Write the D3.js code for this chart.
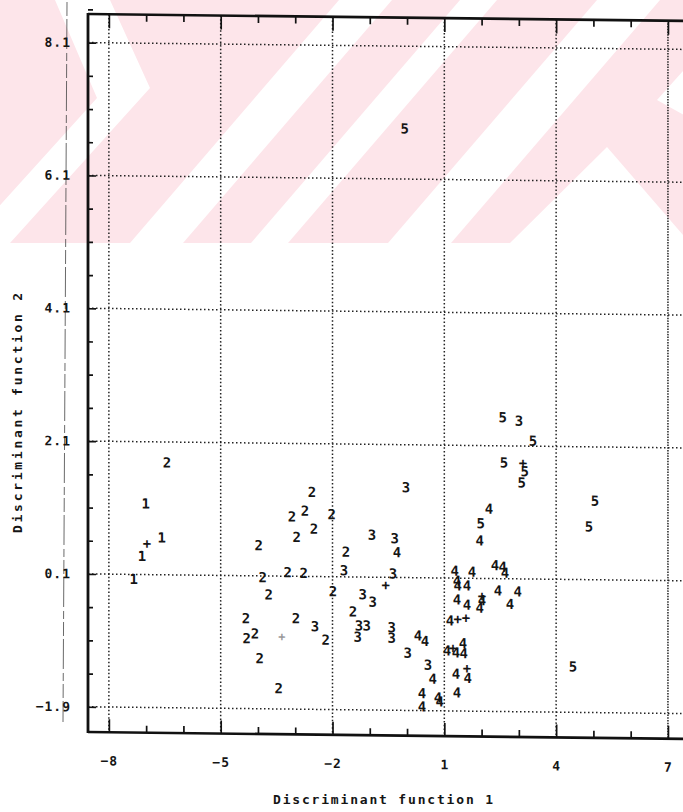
<!DOCTYPE html>
<html>
<head>
<meta charset="utf-8">
<script src="https://cdn.jsdelivr.net/npm/d3@7"></script>
<style>
  body { margin: 0; background: #fff; }
  svg text { font-family: "DejaVu Sans Mono", monospace; font-weight: bold; fill: #151515; }
</style>
</head>
<body>
<div id="chart"></div>
<script>
// axis ticks
const xTicks = [-8, -5, -2, 1, 4, 7];
const yTicks = [-1.9, 0.1, 2.1, 4.1, 6.1, 8.1];
const xMinorTicks = [-7, -6, -4, -3, -1, 0, 2, 3, 5, 6];
const yMinorTicks = [-1.4, -0.9, -0.4, 0.6, 1.1, 1.6, 2.6, 3.1, 3.6, 4.6, 5.1, 5.6, 6.6, 7.1, 7.6, 8.6];

// discriminant scores, one array per group: [function 1, function 2]
const group1 = [[-7.01, 1.17], [-6.58, 0.66], [-7.11, 0.38], [-7.33, 0.03]];
const group2 = [[-6.44, 1.79], [-2.55, 1.37], [-3.09, 1.00], [-2.74, 1.09], [-2.02, 1.04], [-2.50, 0.82],
  [-2.96, 0.69], [-3.98, 0.56], [-1.64, 0.48], [-3.20, 0.16], [-2.77, 0.15], [-3.87, 0.08],
  [-3.71, -0.18], [-1.99, -0.12], [-4.32, -0.54], [-2.98, -0.53], [-1.45, -0.42], [-4.30, -0.84],
  [-4.08, -0.77], [-2.18, -0.85], [-3.95, -1.14], [-3.44, -1.59]];
const group3 = [[-0.94, 0.74], [-0.33, 0.69], [-1.69, 0.20], [-1.19, -0.16], [-0.92, -0.27], [-0.38, 0.16],
  [-2.47, -0.65], [-1.29, -0.63], [-1.08, -0.63], [-1.32, -0.80], [-0.41, -0.65], [-0.41, -0.81],
  [0.02, -1.03], [0.56, -1.21], [-0.03, 1.46], [3.00, 2.48]];
const group4 = [[-0.27, 0.48], [0.29, -0.77], [0.48, -0.85], [0.69, -1.42], [0.40, -1.64], [0.40, -1.84],
  [0.83, -1.70], [0.88, -1.76], [1.34, -1.62], [2.20, 1.15], [1.95, 0.67], [1.28, 0.21], [1.74, 0.20],
  [2.36, 0.30], [2.57, 0.28], [2.63, 0.19], [1.34, 0.06], [1.36, -0.01], [1.61, -0.01], [1.34, -0.22],
  [1.61, -0.30], [2.01, -0.23], [1.95, -0.34], [2.44, -0.08], [2.97, -0.09], [2.76, -0.28], [1.15, -0.54],
  [1.07, -0.99], [1.31, -1.02], [1.50, -0.88], [1.52, -1.03], [1.31, -1.34], [1.63, -1.40]];
const group5 = [[-0.06, 6.86], [2.57, 2.53], [3.38, 2.18], [2.60, 1.85], [3.16, 1.72], [3.08, 1.55],
  [1.98, 0.93], [5.04, 1.29], [4.88, 0.90], [4.45, -1.21]];
// "+" marks printed in the plot
const plusMarks = [[-6.98, 0.57], [-0.57, -0.01], [3.11, 1.85], [2.01, -0.16], [1.36, -0.51],
  [1.58, -0.49], [1.23, -0.95], [1.61, -1.25]];
const faintMarks = [[-3.36, -0.81]];

const groupNames = ["1", "2", "3", "4", "5"];
const groupData = [group1, group2, group3, group4, group5];

const width = 683, height = 812;

const svg = d3.select("#chart").append("svg")
    .attr("width", width)
    .attr("height", height);

/* ------- background stripes of the scanned page ------- */
const wm = svg.append("g");
const wmBottom = 243;
wm.append("rect").attr("x", 0).attr("y", 0).attr("width", width).attr("height", wmBottom).attr("fill", "#fde5ea");
const slant = 0.86;
const band = (c1, c2) => [[c1, 0], [c2, 0], [c2 - slant * wmBottom, wmBottom], [c1 - slant * wmBottom, wmBottom]];
const whiteShapes = [
    band(339, 392),
    band(460, 497),
    band(597, 660),
    [[55, 0], [110, 0], [150, 88], [10, 243], [-34, 243], [97, 98]],
    [[607, 147], [510, 243], [690, 243]],
    [[684, 70], [684, 115], [657, 100]]
];
wm.selectAll("polygon").data(whiteShapes).enter().append("polygon")
    .attr("points", d => d.map(p => p.join(",")).join(" "))
    .attr("fill", "#fff");

// scanner artefact line
svg.append("line")
    .attr("x1", 67).attr("y1", 2).attr("x2", 63).attr("y2", 722)
    .attr("stroke", "#444").attr("stroke-width", 0.8)
    .attr("stroke-dasharray", "14,3,30,4,8,3");

/* ------- plot, slightly skewed like the scan ------- */
const plotLeft = 88, plotTop = 14, plotBottom = 732, plotRight = 700;
const skew = 0.0115;
const g = svg.append("g")
    .attr("transform", `translate(0,${-plotLeft * skew}) skewY(${Math.atan(skew) * 180 / Math.PI})`);

const x = d3.scaleLinear().domain([-8.56, 7.86]).range([plotLeft, plotRight]);
const y = d3.scaleLinear().domain([-2.28, 8.53]).range([plotBottom, plotTop]);

// dotted grid
g.selectAll(".hgrid").data(yTicks).enter().append("line")
    .attr("x1", plotLeft).attr("x2", plotRight)
    .attr("y1", d => y(d)).attr("y2", d => y(d))
    .attr("stroke", "#222").attr("stroke-width", 1.5)
    .attr("stroke-dasharray", "1.5,2.5");
g.selectAll(".vgrid").data(xTicks).enter().append("line")
    .attr("x1", d => x(d)).attr("x2", d => x(d))
    .attr("y1", plotTop).attr("y2", plotBottom)
    .attr("stroke", "#222").attr("stroke-width", 1.5)
    .attr("stroke-dasharray", d => d === 7 ? "1.5,1.2" : "1.5,2.2");

// axes: ticks drawn inwards, frame thick
const xAxisBottom = d3.axisBottom(x).tickValues(xTicks).tickSize(-13).tickFormat(d3.format("d")).tickPadding(24);
const xAxisBottomMinor = d3.axisBottom(x).tickValues(xMinorTicks).tickSize(-7).tickFormat("");
const xAxisTop = d3.axisTop(x).tickValues(xTicks).tickSize(-14).tickFormat("");
const xAxisTopMinor = d3.axisTop(x).tickValues(xMinorTicks).tickSize(-7).tickFormat("");
const yAxisLeft = d3.axisLeft(y).tickValues(yTicks).tickSize(-8).tickFormat(d3.format(".1f")).tickPadding(17);
const yAxisLeftMinor = d3.axisLeft(y).tickValues(yMinorTicks).tickSize(-5).tickFormat("");

function styleAxis(sel) {
    sel.select(".domain").remove();
    sel.selectAll(".tick line").attr("stroke", "#111").attr("stroke-width", 1.7);
    sel.selectAll("text").attr("font-size", 13).attr("fill", "#151515")
        .attr("font-family", '"DejaVu Sans Mono", monospace').attr("font-weight", "bold")
        .attr("letter-spacing", 1);
}

g.append("g").attr("transform", `translate(0,${plotBottom})`).call(xAxisBottom).call(styleAxis);
g.append("g").attr("transform", `translate(0,${plotBottom})`).call(xAxisBottomMinor).call(styleAxis);
g.append("g").attr("transform", `translate(0,${plotTop})`).call(xAxisTop).call(styleAxis);
g.append("g").attr("transform", `translate(0,${plotTop})`).call(xAxisTopMinor).call(styleAxis);
g.append("g").attr("transform", `translate(${plotLeft},0)`).call(yAxisLeft).call(styleAxis);
g.append("g").attr("transform", `translate(${plotLeft},0)`).call(yAxisLeftMinor).call(styleAxis);

// frame lines
g.append("line").attr("x1", plotLeft).attr("x2", plotRight).attr("y1", plotTop).attr("y2", plotTop)
    .attr("stroke", "#111").attr("stroke-width", 2.6);
g.append("line").attr("x1", plotLeft).attr("x2", plotRight).attr("y1", plotBottom).attr("y2", plotBottom)
    .attr("stroke", "#111").attr("stroke-width", 2.6);
g.append("line").attr("x1", plotLeft).attr("x2", plotLeft).attr("y1", plotTop - 1).attr("y2", plotBottom + 1)
    .attr("stroke", "#111").attr("stroke-width", 2.8);

/* ------- the cases, printed as group numbers ------- */
groupData.forEach((pts, i) => {
    g.append("g").selectAll("text").data(pts).enter().append("text")
        .attr("x", d => x(d[0]))
        .attr("y", d => y(d[1]))
        .attr("dy", "0.36em")
        .attr("text-anchor", "middle")
        .attr("font-size", 14)
        .text(groupNames[i]);
});

g.append("g").selectAll("text").data(plusMarks).enter().append("text")
    .attr("x", d => x(d[0]))
    .attr("y", d => y(d[1]))
    .attr("dy", "0.36em")
    .attr("text-anchor", "middle")
    .attr("font-size", 14)
    .text("+");

g.append("g").selectAll("text").data(faintMarks).enter().append("text")
    .attr("x", d => x(d[0]))
    .attr("y", d => y(d[1]))
    .attr("dy", "0.36em")
    .attr("text-anchor", "middle")
    .attr("font-size", 12)
    .style("fill", "#999")
    .text("+");

/* ------- axis titles ------- */
svg.append("text")
    .attr("x", 383).attr("y", 804)
    .attr("text-anchor", "middle")
    .attr("font-size", 13)
    .attr("textLength", 220)
    .attr("lengthAdjust", "spacing")
    .text("Discriminant function 1");

svg.append("text")
    .attr("transform", "translate(22,413) rotate(-90)")
    .attr("text-anchor", "middle")
    .attr("font-size", 13)
    .attr("textLength", 240)
    .attr("lengthAdjust", "spacing")
    .text("Discriminant function 2");
</script>
</body>
</html>
